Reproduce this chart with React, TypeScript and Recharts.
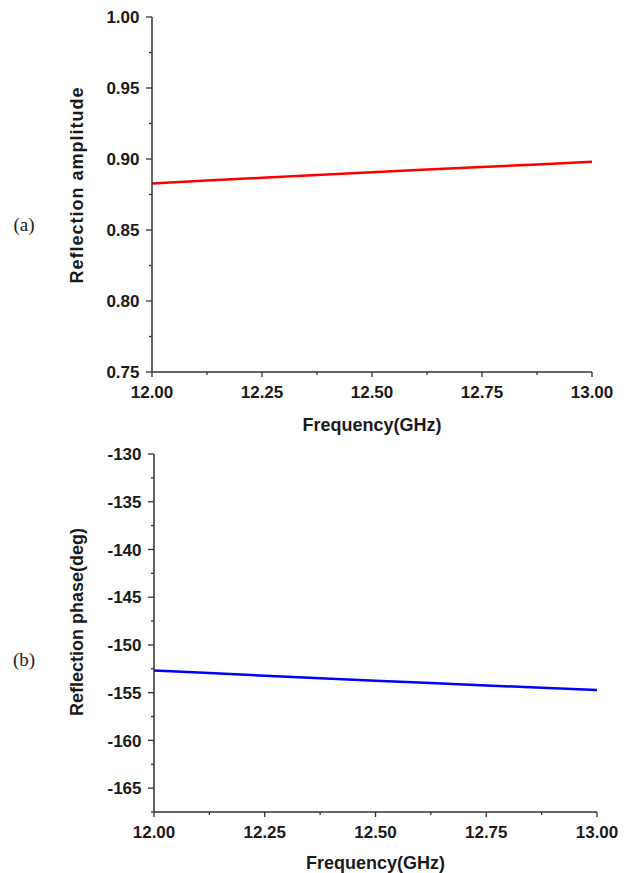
import React from 'react';
import { LineChart, Line, XAxis, YAxis } from 'recharts';

// frequency samples (GHz)
const freq = [12.0, 12.125, 12.25, 12.375, 12.5, 12.625, 12.75, 12.875, 13.0];
// reflection amplitude
const amplitude = [0.8827, 0.8848, 0.8868, 0.8888, 0.8907, 0.8926, 0.8944, 0.8962, 0.898];
// reflection phase (deg)
const phase = [-152.68, -152.95, -153.22, -153.49, -153.76, -154.0, -154.24, -154.48, -154.71];

const xTicks = [12.0, 12.125, 12.25, 12.375, 12.5, 12.625, 12.75, 12.875, 13.0];
const ampTicks = [0.75, 0.775, 0.8, 0.825, 0.85, 0.875, 0.9, 0.925, 0.95, 0.975, 1.0];
const phaseTicks = [-167.5, -165, -162.5, -160, -157.5, -155, -152.5, -150, -147.5, -145, -142.5, -140, -137.5, -135, -132.5, -130];

const ampData = freq.map((f, i) => ({ f, v: amplitude[i] }));
const phaseData = freq.map((f, i) => ({ f, v: phase[i] }));

const FONT = '"Liberation Sans", Arial, sans-serif';
const INK = '#1a1a1a';
const AXIS = '#333';

const near = (v: number, step: number) => Math.abs(v / step - Math.round(v / step)) < 1e-6;

function XTick({ x, y, payload }: any) {
  const major = near(payload.value, 0.25);
  return (
    <g>
      <line x1={x} y1={y} x2={x} y2={y + (major ? 5 : 3)} stroke={AXIS} strokeWidth={1.3} />
      {major && (
        <text x={x} y={y + 26} textAnchor="middle" fontFamily={FONT} fontWeight="bold" fontSize={17} fill={INK}>
          {payload.value.toFixed(2)}
        </text>
      )}
    </g>
  );
}

function makeYTick(step: number, fmt: (v: number) => string) {
  return function YTick({ x, y, payload }: any) {
    const major = near(payload.value, step);
    return (
      <g>
        <line x1={x} y1={y} x2={x - (major ? 6 : 3)} y2={y} stroke={AXIS} strokeWidth={1.3} />
        {major && (
          <text x={x - 12.5} y={y} dy="0.36em" textAnchor="end" fontFamily={FONT} fontWeight="bold" fontSize={17} fill={INK}>
            {fmt(payload.value)}
          </text>
        )}
      </g>
    );
  };
}

const AmpTick = makeYTick(0.05, (v) => v.toFixed(2));
const PhaseTick = makeYTick(5, (v) => String(Math.round(v)));

export default function App() {
  return (
    <div style={{ position: 'absolute', left: 0, top: 0, width: 629, height: 873, background: '#fff' }}>
      <div style={{ position: 'absolute', left: 0, top: 0 }}>
        <LineChart width={629} height={440} data={ampData} margin={{ top: 17, right: 37, left: 92, bottom: 38 }}>
          <XAxis
            dataKey="f"
            type="number"
            domain={[12, 13]}
            ticks={xTicks}
            interval={0}
            height={30}
            tickSize={0}
            tickMargin={0}
            tickLine={false}
            tick={<XTick />}
            axisLine={{ stroke: AXIS, strokeWidth: 1.5 }}
          />
          <YAxis
            type="number"
            domain={[0.75, 1.0]}
            ticks={ampTicks}
            interval={0}
            width={60}
            tickSize={0}
            tickMargin={0}
            tickLine={false}
            tick={<AmpTick />}
            axisLine={{ stroke: AXIS, strokeWidth: 1.5 }}
          />
          <Line dataKey="v" stroke="#ff0000" strokeWidth={2.5} dot={false} isAnimationActive={false} />
        </LineChart>
      </div>
      <div style={{ position: 'absolute', left: 0, top: 440 }}>
        <LineChart width={629} height={433} data={phaseData} margin={{ top: 14, right: 32, left: 94, bottom: 31 }}>
          <XAxis
            dataKey="f"
            type="number"
            domain={[12, 13]}
            ticks={xTicks}
            interval={0}
            height={30}
            tickSize={0}
            tickMargin={0}
            tickLine={false}
            tick={<XTick />}
            axisLine={{ stroke: AXIS, strokeWidth: 1.5 }}
          />
          <YAxis
            type="number"
            domain={[-167.5, -130]}
            ticks={phaseTicks}
            interval={0}
            width={60}
            tickSize={0}
            tickMargin={0}
            tickLine={false}
            tick={<PhaseTick />}
            axisLine={{ stroke: AXIS, strokeWidth: 1.5 }}
          />
          <Line dataKey="v" stroke="#0000ff" strokeWidth={2.5} dot={false} isAnimationActive={false} />
        </LineChart>
      </div>
      <svg width={629} height={873} style={{ position: 'absolute', left: 0, top: 0, pointerEvents: 'none' }}>
        <g fontFamily={FONT} fontWeight="bold" fontSize={18} fill={INK} textAnchor="middle">
          <text x={372} y={430.7}>Frequency(GHz)</text>
          <text x={375.5} y={869}>Frequency(GHz)</text>
          <text transform="translate(83,185) rotate(-90)" letterSpacing={1}>Reflection amplitude</text>
          <text transform="translate(83,622) rotate(-90)">Reflection phase(deg)</text>
        </g>
        <g fontFamily='"Liberation Serif", "Times New Roman", serif' fontSize={19} fill="#222" textAnchor="middle">
          <text x={24} y={231}>(a)</text>
          <text x={24} y={666}>(b)</text>
        </g>
      </svg>
    </div>
  );
}
